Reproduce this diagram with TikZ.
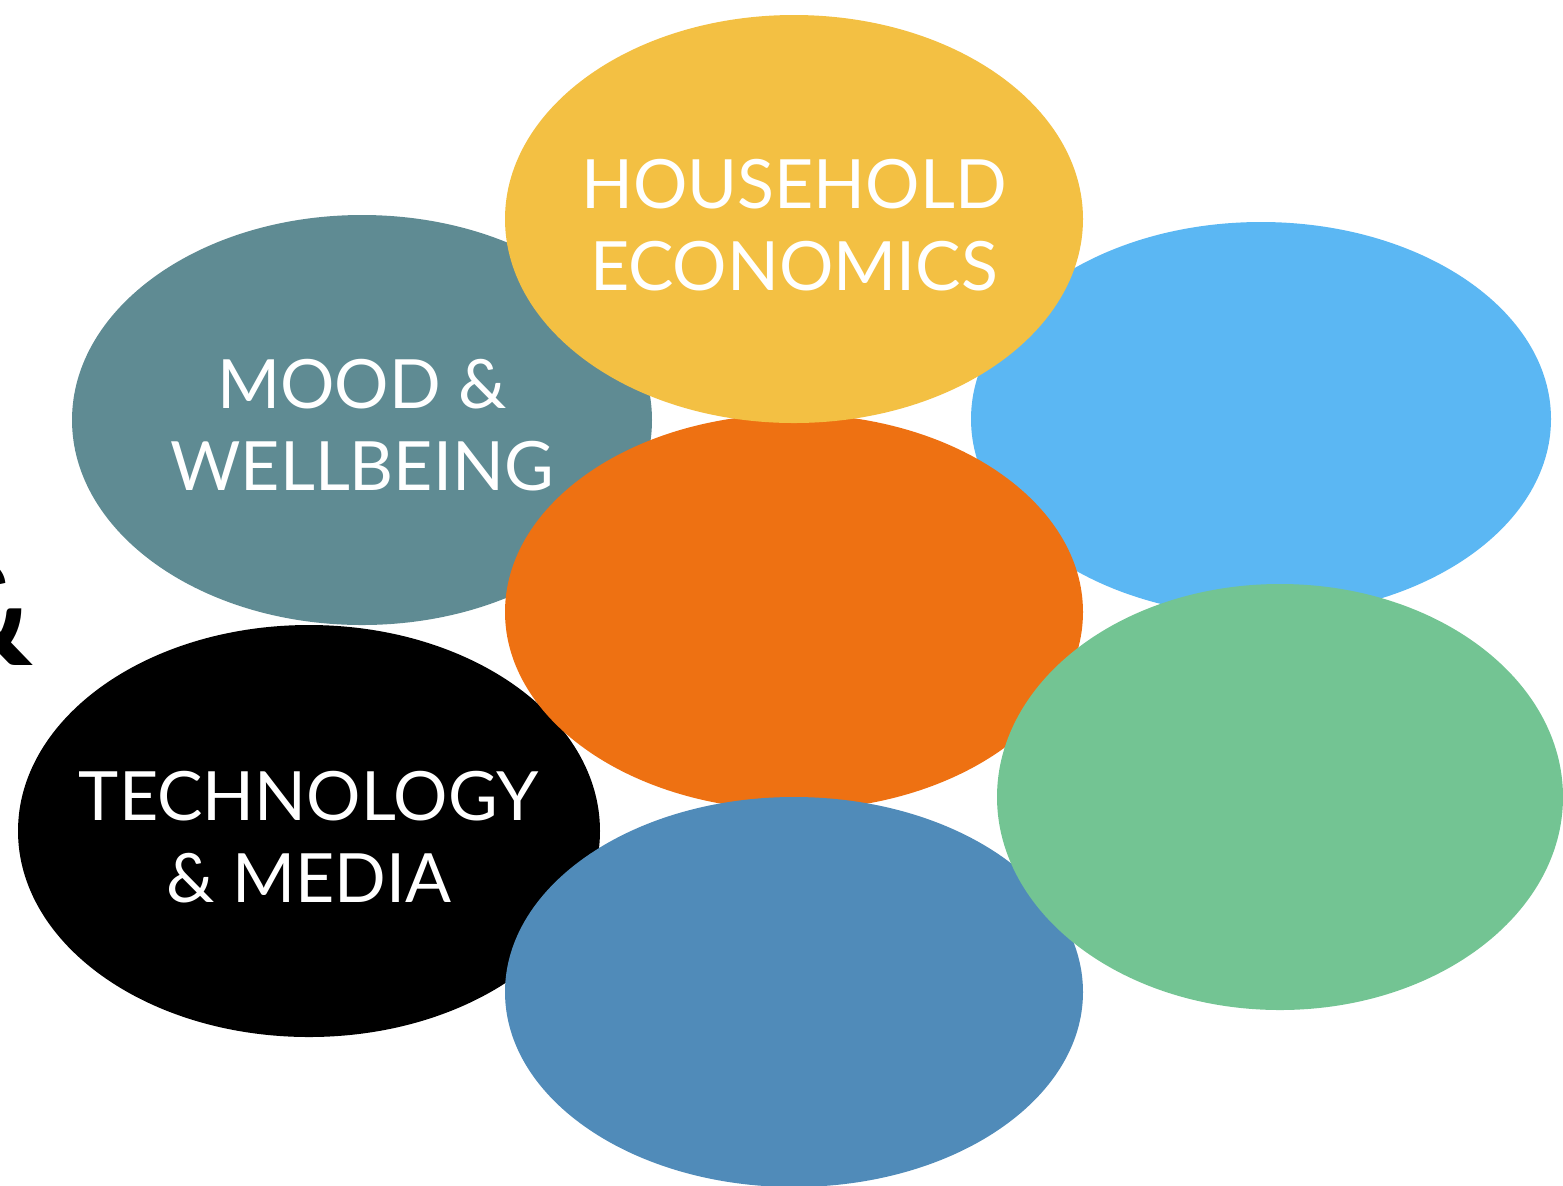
\documentclass[tikz,border=0pt]{standalone}
\usepackage{fontspec}
\setmainfont{Lato}
\usetikzlibrary{shapes.geometric}
\definecolor{cyellow}{RGB}{243,192,67}
\definecolor{cteal}{RGB}{95,139,147}
\definecolor{clightblue}{RGB}{91,183,243}
\definecolor{corange}{RGB}{238,113,18}
\definecolor{csteel}{RGB}{80,139,185}
\definecolor{cgreen}{RGB}{115,196,147}
\tikzset{
  blob/.style={ellipse, draw=none, inner sep=0pt},
  lbl/.style={text=white, align=center, inner sep=0pt, font=\fontsize{34}{41}\selectfont}
}
\begin{document}
\begin{tikzpicture}[x=0.5pt,y=-0.5pt]
\useasboundingbox (0,0) rectangle (1563,1185);
\node[anchor=base east, inner sep=0pt, font=\fontsize{72}{72}\selectfont\bfseries] (amp) at (34,665) {\&};
\node[blob, fill=cteal, minimum width=290pt, minimum height=205pt] (mood) at (362,420) {};
\node[blob, fill=clightblue, minimum width=290pt, minimum height=197pt] (lblue) at (1261,419) {};
\node[blob, fill=black, minimum width=291pt, minimum height=206pt] (tech) at (309,831) {};
\node[blob, fill=corange, minimum width=289pt, minimum height=198pt] (center) at (794,612) {};
\node[blob, fill=cyellow, minimum width=289pt, minimum height=204pt] (house) at (794,219) {};
\node[blob, fill=csteel, minimum width=289pt, minimum height=195pt] (bottom) at (794,992) {};
\node[blob, fill=cgreen, minimum width=283pt, minimum height=213pt] (green) at (1280,797) {};
\node[lbl] (houset) at (794,225) {HOUSEHOLD\\ECONOMICS};
\node[lbl] (moodt) at (362,425) {MOOD \&\\WELLBEING};
\node[lbl] (techt) at (309,837) {TECHNOLOGY\\\& MEDIA};
\end{tikzpicture}
\end{document}
